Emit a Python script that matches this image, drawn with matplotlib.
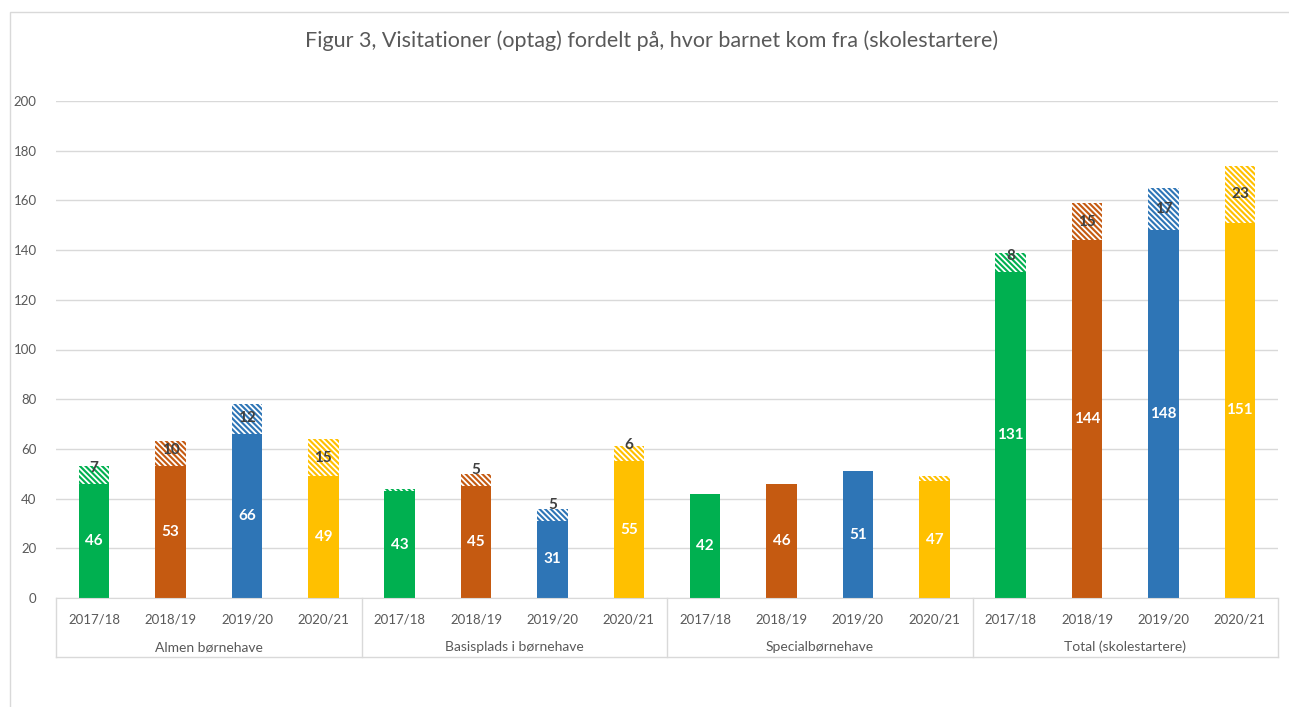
import numpy as np
import matplotlib
matplotlib.use("Agg")
import matplotlib.pyplot as plt
from matplotlib.patches import Rectangle

plt.rcParams['font.family'] = ['Lato', 'DejaVu Sans']
plt.rcParams['hatch.linewidth'] = 1.3

groups = ["Almen børnehave", "Basisplads i børnehave", "Specialbørnehave", "Total (skolestartere)"]
years = ["2017/18", "2018/19", "2019/20", "2020/21"]
colors = ["#00B050", "#C55A11", "#2E75B6", "#FFC000"]

# solid part / hatched part for each group, one value per year
almen_base = [46, 53, 66, 49]
almen_top = [7, 10, 12, 15]
basis_base = [43, 45, 31, 55]
basis_top = [1, 5, 5, 6]
special_base = [42, 46, 51, 47]
special_top = [0, 0, 0, 2]
total_base = [131, 144, 148, 151]
total_top = [8, 15, 17, 23]

base = almen_base + basis_base + special_base + total_base
top = almen_top + basis_top + special_top + total_top
bar_colors = colors * len(groups)

fig = plt.figure(figsize=(12.89, 7.07), dpi=100)
ax = fig.add_axes([56/1289, 1 - 598/707, (1278 - 56)/1289, (598 - 101)/707])

# chart border
fig.patches.append(Rectangle((10/1289, -0.05), 1.2, 1 - 12/707 + 0.05, transform=fig.transFigure,
                             fill=False, edgecolor="#D9D9D9", linewidth=1))

x = np.arange(len(base))
w = 0.4
ax.bar(x, base, w, color=bar_colors, linewidth=0, zorder=2)
ax.bar(x, top, w, bottom=base, color=bar_colors, edgecolor="white", hatch="\\" * 6,
       linewidth=0, zorder=2)

for xi, b, t in zip(x, base, top):
    ax.text(xi, b / 2, str(b), ha="center", va="center", color="white",
            fontsize=11, fontweight="bold", zorder=3)
    if t >= 5:
        ax.text(xi, max(b + t / 2, b + 6.5), str(t), ha="center", va="center",
                color="#404040", fontsize=11, fontweight="bold", zorder=3)

ax.set_xlim(-0.5, len(base) - 0.5)
ax.set_ylim(0, 200)
ax.set_yticks(np.arange(0, 201, 20))
ax.yaxis.grid(True, color="#D9D9D9", linewidth=1)
ax.set_axisbelow(True)
for s in ["left", "right", "top"]:
    ax.spines[s].set_visible(False)
ax.spines["bottom"].set_color("#D9D9D9")
ax.tick_params(axis="y", length=0, labelsize=9.5, labelcolor="#595959", pad=14)
ax.tick_params(axis="x", length=0, labelsize=9.5, labelcolor="#595959", pad=11)
ax.set_xticks(x)
ax.set_xticklabels(years * len(groups))

# group labels and separators under the axis
trans = ax.get_xaxis_transform()
sep = -59 / 497
for i in range(len(groups) + 1):
    ax.plot([i * 4 - 0.5] * 2, [0, sep], transform=trans, color="#D9D9D9",
            linewidth=1, clip_on=False)
ax.plot([-0.5, len(base) - 0.5], [sep, sep], transform=trans, color="#D9D9D9",
        linewidth=1, clip_on=False)
for i, g in enumerate(groups):
    ax.text(i * 4 + 1.5, -49 / 497, g, transform=trans, ha="center", va="center",
            fontsize=10, color="#595959")

fig.text(652/1289, 1 - 41/707, "Figur 3, Visitationer (optag) fordelt på, hvor barnet kom fra (skolestartere)",
         ha="center", va="center", fontsize=15.5, color="#595959")

fig.savefig("out.png", dpi=100)
